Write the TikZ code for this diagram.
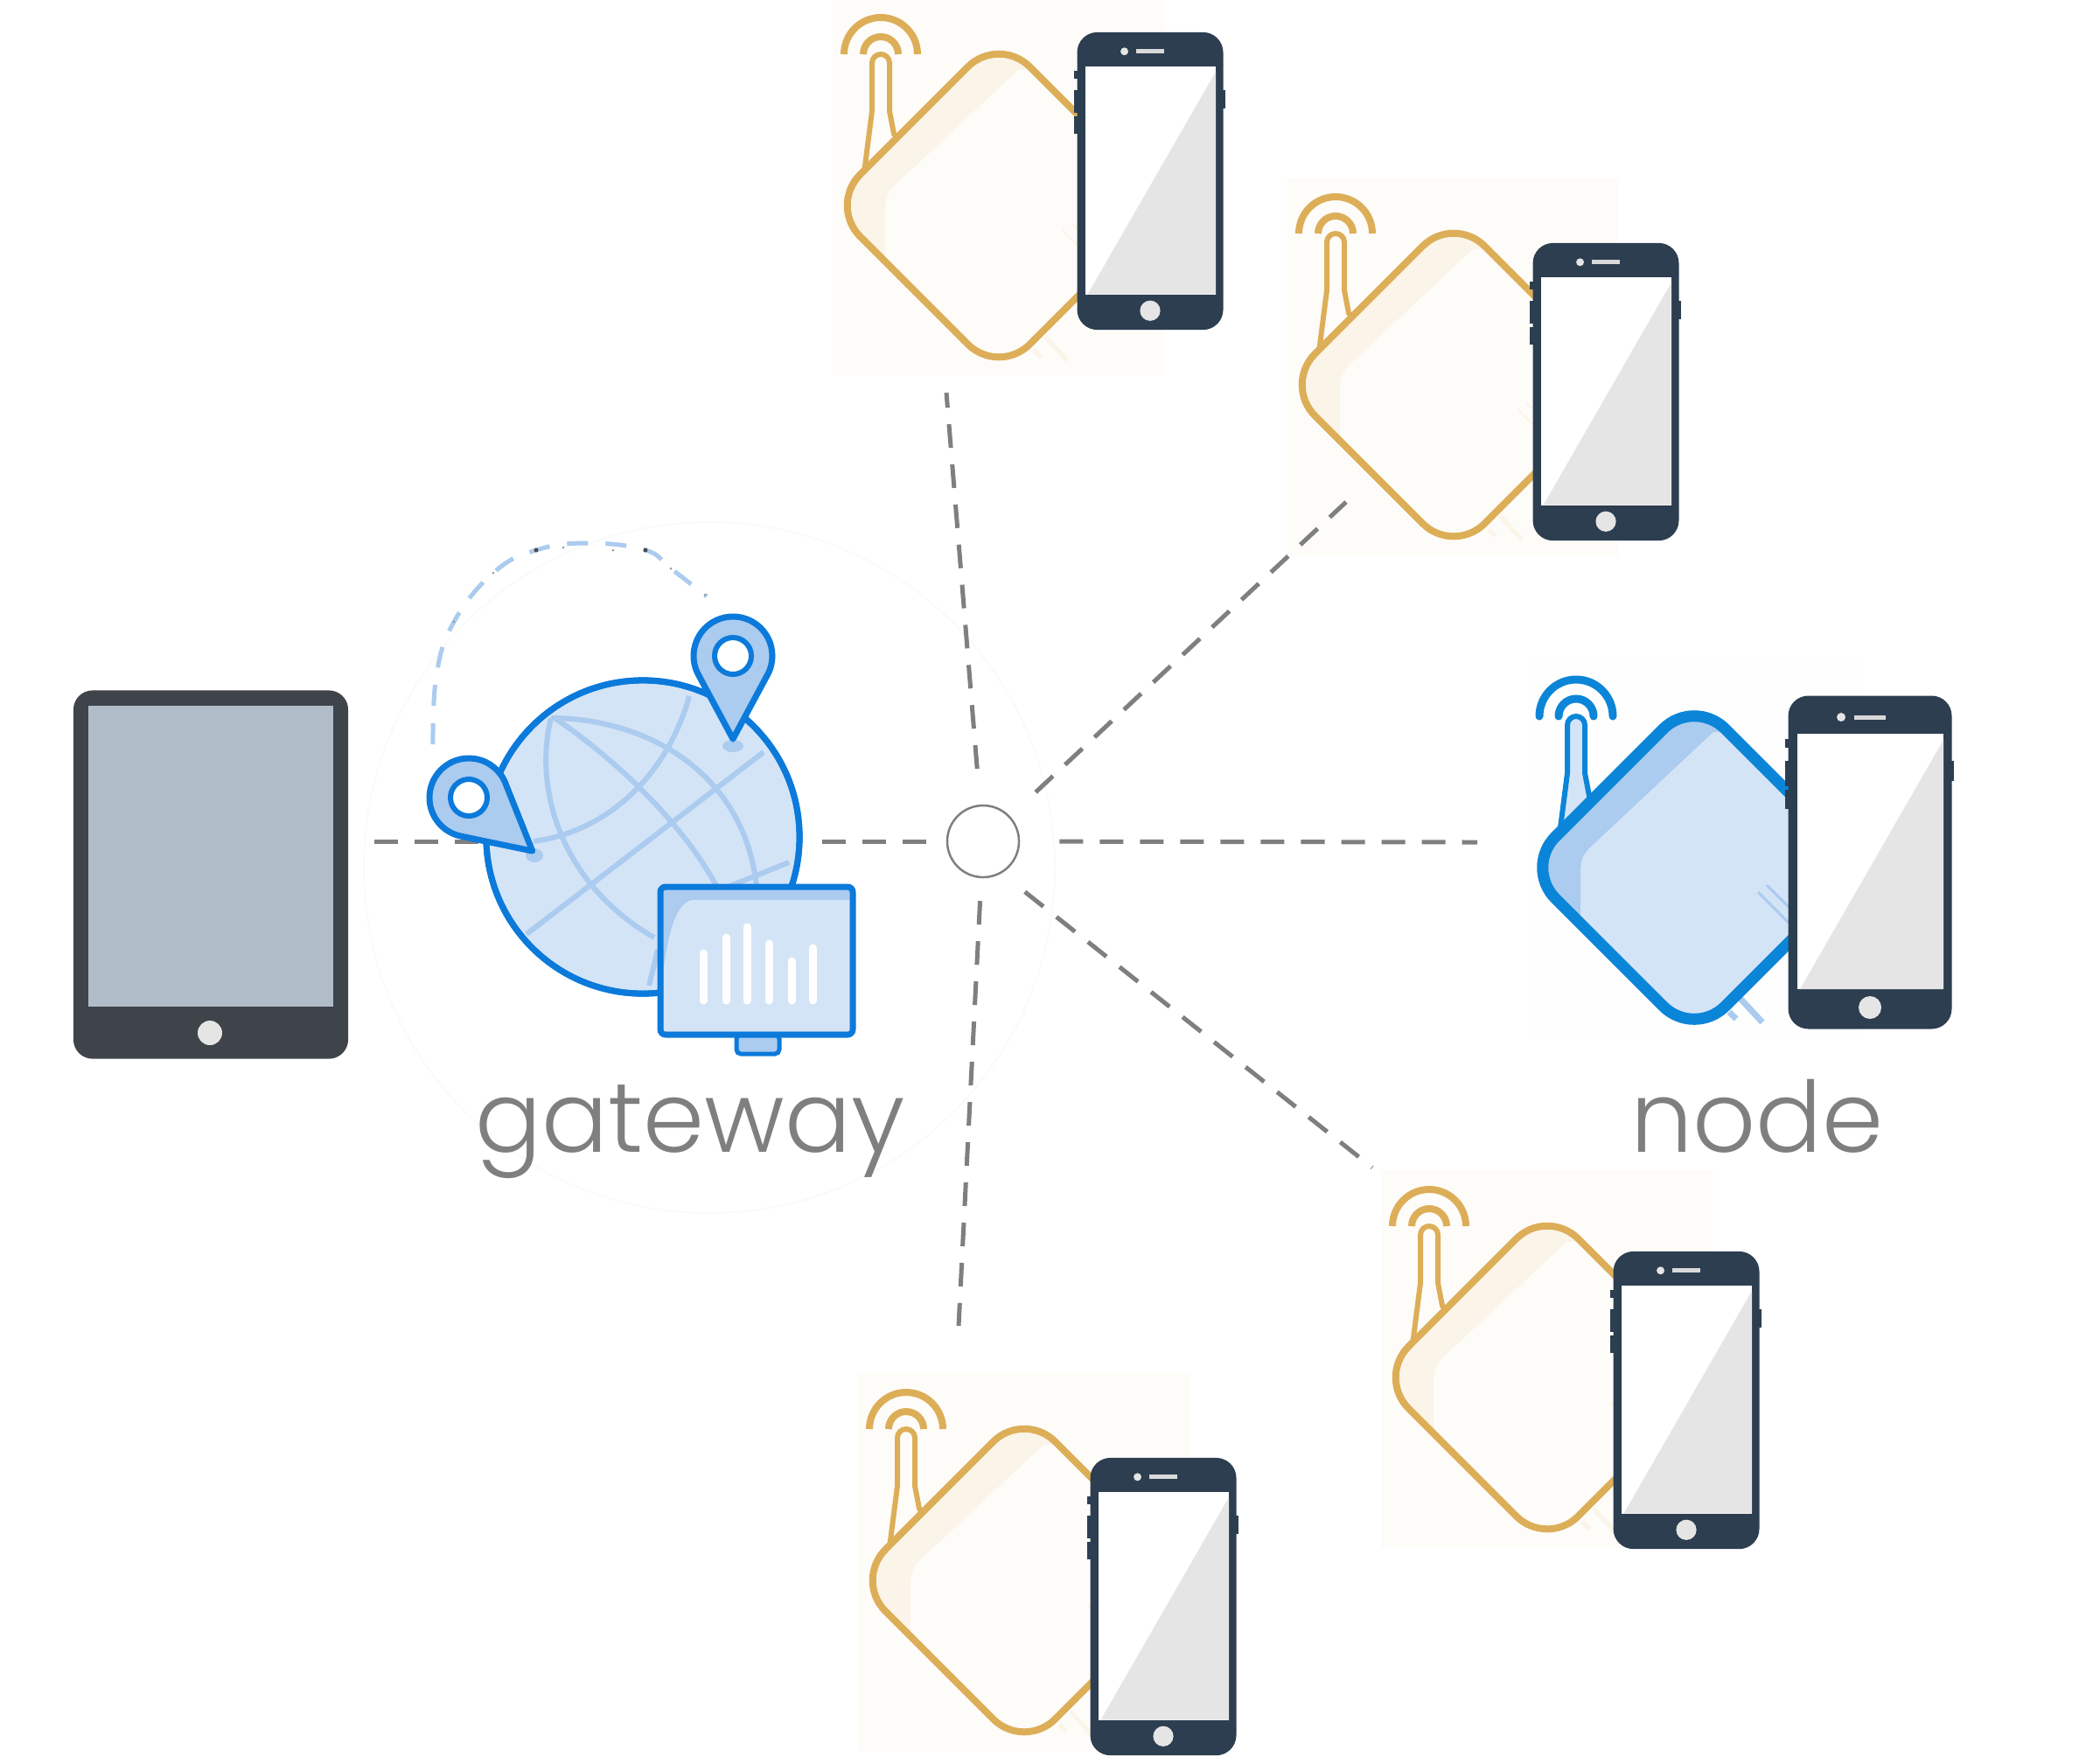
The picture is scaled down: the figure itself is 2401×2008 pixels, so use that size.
\documentclass[tikz,border=0pt]{standalone}
\usepackage{fontspec}
\setmainfont{Lato}
\newfontfamily\labelfont{Poppins Light}
\usetikzlibrary{positioning, calc}

\definecolor{netblue}{HTML}{0B7ADB}
\definecolor{routerblue}{HTML}{0B85D8}
\definecolor{paleblue}{HTML}{D4E4F7}
\definecolor{midblue}{HTML}{ABCBEF}
\definecolor{routergold}{HTML}{DDAE58}
\definecolor{palegold}{HTML}{FEFCF9}
\definecolor{bandgold}{HTML}{FBF4E8}
\definecolor{phonedark}{HTML}{2C3E50}
\definecolor{tabletdark}{HTML}{3F444A}
\definecolor{tabletscreen}{HTML}{B0BDC9}
\definecolor{linkgray}{HTML}{7F7F7F}
\definecolor{labelgray}{HTML}{7F7F7F}

\tikzset{
    link/.style={draw=linkgray, line width=0.05cm, dash pattern=on 0.27cm off 0.19cm},
    hubcircle/.style={circle, draw=linkgray, fill=white, line width=0.025cm, minimum size=0.82cm, inner sep=0pt},
    labeltext/.style={font=\labelfont\fontsize{32}{38}\selectfont, text=labelgray, anchor=base},
    gridline/.style={draw=midblue, line width=0.06cm},
    bluelook/.style={
        routerbg/.style={fill=black!0.5},
        routerband/.style={fill=midblue},
        routerbody/.style={fill=paleblue},
        routerline/.style={draw=routerblue, line width=0.13cm},
        routerwave/.style={draw=routerblue, line width=0.09cm, line cap=round},
        routerstem/.style={draw=routerblue, fill=paleblue, line width=0.06cm},
        routerstub/.style={draw=midblue, line width=0.07cm},
        routerthin/.style={draw=midblue, line width=0.03cm}},
    goldlook/.style={
        routerbg/.style={fill=palegold},
        routerband/.style={fill=bandgold},
        routerbody/.style={fill=palegold},
        routerline/.style={draw=routergold, line width=0.08cm},
        routerwave/.style={draw=routergold, line width=0.08cm},
        routerstem/.style={draw=routergold, fill=palegold, line width=0.06cm},
        routerstub/.style={draw=bandgold, line width=0.05cm},
        routerthin/.style={draw=bandgold, line width=0.02cm}},
    pics/router/.style={code={
        \fill[routerbg] (-190,-237) rectangle (189,195);
        % stubs under the case
        \draw[routerstub] (40,165) -- (48,173);
        \draw[routerstub] (53,150) -- (78,177);
        % antenna
        \draw[routerwave] (-177,-173) arc (180:360:42);
        \draw[routerwave] (-155,-173) arc (180:360:20);
        \filldraw[routerstem] (-155,-30) -- (-145,-108) -- (-145,-163) arc (180:360:10) -- (-125,-108) -- (-120,-82) -- (-110,-70) -- cycle;
        % case
        \fill[routerband, rounded corners=0.5cm] (0,-194) -- (-194,0) -- (0,194) -- (194,0) -- cycle;
        \begin{scope}
            \clip[rounded corners=0.5cm] (0,-194) -- (-194,0) -- (0,194) -- (194,0) -- cycle;
            \fill[routerbody] (22,-155) -- (-120,-22) .. controls (-128,-14) and (-130,-5) .. (-130,5) -- (-130,200) -- (200,200) -- (200,-155) -- cycle;
            \draw[routerthin] (73,28) -- (108,63);
            \draw[routerthin] (83,20) -- (108,45);
        \end{scope}
        \draw[routerline, rounded corners=0.5cm] (0,-194) -- (-194,0) -- (0,194) -- (194,0) -- cycle;
    }},
    pics/phone/.style={code={
        % side keys
        \fill[phonedark] (-97,-141) rectangle (-90,-131);
        \fill[phonedark] (-97,-116) rectangle (-90,-87);
        \fill[phonedark] (-97,-83) rectangle (-90,-61);
        \fill[phonedark] (90,-116) rectangle (96,-93);
        \fill[phonedark, rounded corners=0.23cm] (-93.5,-190.5) rectangle (93.5,190.5);
        \fill[white] (-83,-147) rectangle (84,145);
        \fill[black!10] (84,-140) -- (84,145) -- (-80,145) -- cycle;
        \fill[black!10!white] (-33,-166) circle (5);
        \draw[black!15, line width=0.05cm] (-18,-166) -- (18,-166);
        \fill[black!10!white] (0,166) circle (13);
    }},
    pics/locpin/.style={code={
        \filldraw[draw=netblue, fill=midblue, line width=0.07cm, line join=round] (0,95) -- (150:45) arc (150:390:45) -- cycle;
        \filldraw[draw=netblue, fill=white, line width=0.06cm] (0,0) circle (21);
    }}
}

\begin{document}
\begin{tikzpicture}[x=0.01cm, y=-0.01cm]
    \useasboundingbox (0,0) rectangle (2401,2008);

    % Faint ring behind the gateway
    \draw[black!2, line width=0.02cm] (811,992) circle (395);

    % Tablet
    \node[fill=tabletdark, rounded corners=0.22cm, minimum width=3.14cm, minimum height=4.21cm, inner sep=0pt] (tablet) at (241,1000) {};
    \fill[tabletscreen] (101,807) rectangle (381,1151);
    \fill[white!90!black] (240,1181) circle (14);

    % Hub
    \node[hubcircle] (hub) at (1124,962) {};

    % Gateway globe
    \node[circle, draw=netblue, fill=paleblue, line width=0.07cm, minimum size=3.58cm, inner sep=0pt] (globe) at (735,957) {};
    \draw[link, shorten <=0.29cm] (tablet.east |- hub) -- (hub -| globe.west);
    \draw[link, shorten <=0.22cm, shorten >=0.23cm] (hub -| globe.east) -- (hub.west);
    \node[circle, draw=netblue, line width=0.07cm, minimum size=3.58cm, inner sep=0pt] at (globe) {};

    % Globe grid
    \draw[gridline] (630,821) .. controls (735,821) and (850,880) .. (865,1013);
    \draw[gridline] (630,821) .. controls (610,900) and (640,1010) .. (748,1072);
    \draw[gridline] (634,821) .. controls (700,865) and (780,940) .. (819,1013);
    \draw[gridline] (788,796) .. controls (765,880) and (700,950) .. (610,962);
    \draw[gridline] (602,1068) -- (873,860);
    \draw[gridline] (835,1013) -- (902,986);
    \draw[gridline] (742,1127) -- (752,1086);
    \fill[midblue] (611,978) ellipse (10 and 8);
    \fill[midblue] (838,853) ellipse (12 and 7);

    % Monitor
    \filldraw[draw=netblue, fill=midblue, line width=0.05cm, rounded corners=0.05cm] (842,1183) rectangle (891,1205);
    \filldraw[draw=netblue, fill=midblue, line width=0.07cm, rounded corners=0.06cm] (755,1014) rectangle (975,1183);
    \fill[paleblue] (971,1029) -- (792,1029) .. controls (772,1032) and (764,1070) .. (759,1106) -- (759,1179) -- (971,1179) -- cycle;
    \foreach \x/\y in {804/1090, 830/1072, 854/1060, 879/1079, 905/1099, 929/1084} {
        \draw[white, line width=0.09cm, line cap=round] (\x,1144) -- (\x,\y);
    }

    % Pins
    \pic[rotate=50] at (536,912) {locpin};
    \pic at (838,750) {locpin};

    % Dashed orbit over the globe
    \draw[midblue, line width=0.05cm, dash pattern=on 0.24cm off 0.2cm] plot[smooth, tension=0.7] coordinates {(495,851) (499,772) (519,711) (564,655) (613,629) (673,621) (738,629) (767,650) (808,682)};
    \foreach \x/\y in {519/711, 564/655, 644/626, 701/629, 767/650, 806/680} {
        \fill[black!40] (\x,\y) circle (1.5);
    }
    \foreach \x/\y in {613/629, 738/629} {
        \fill[black!70] (\x,\y) circle (2.5);
    }

    % Blue node
    \pic[bluelook] at (1937,992) {router};
    \pic at (2138,986) {phone};

    % Gold nodes
    \pic[goldlook] at (1142,235) {router};
    \pic[scale=0.893] at (1315,207) {phone};
    \pic[goldlook] at (1662,440) {router};
    \pic[scale=0.893] at (1836,448) {phone};
    \pic[goldlook] at (1769,1575) {router};
    \pic[scale=0.893] at (1928,1601) {phone};
    \pic[goldlook] at (1171,1807) {router};
    \pic[scale=0.893] at (1330,1837) {phone};

    % Links from the hub
    \coordinate (topEnd) at (1082,449);
    \coordinate (upperEnd) at (1539,574);
    \coordinate (nodeEnd) at (1689,963);
    \coordinate (lowerEnd) at (1569,1335);
    \coordinate (bottomEnd) at (1096,1516);
    \draw[link, shorten <=0.41cm] (hub) -- (topEnd);
    \draw[link, shorten <=0.4cm] (hub) -- (upperEnd);
    \draw[link, shorten <=0.45cm] (hub) -- (nodeEnd);
    \draw[link, shorten <=0.34cm] (hub.-60) -- (lowerEnd);
    \draw[link, shorten <=0.26cm] (hub) -- (bottomEnd);

    % Labels
    \node[labeltext] (gatewaylabel) at (789,1317) {gateway};
    \node[labeltext] (nodelabel) at (2009,1317) {node};
\end{tikzpicture}
\end{document}
